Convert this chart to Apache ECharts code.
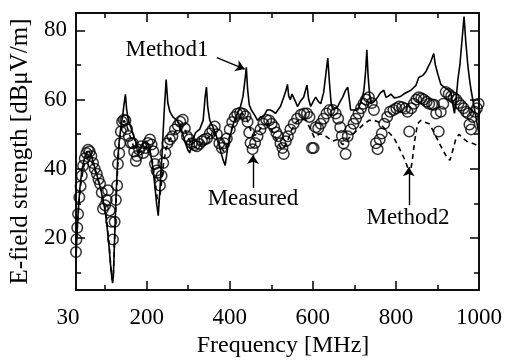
<!DOCTYPE html>
<html><head><meta charset="utf-8">
<script src="https://cdn.jsdelivr.net/npm/echarts@6/dist/echarts.min.js"></script>
<style>html,body{margin:0;padding:0;background:#fff}#c{width:507px;height:363px}</style>
</head><body><div id="c"></div>
<script>
const xTickLabels = [30, 200, 400, 600, 800, 1000];
const xMajorTicks = [200, 400, 600, 800];
const xMinorTicks = [100, 300, 500, 700, 900];
const yTickLabels = [20, 40, 60, 80];
const yMinorTicks = [10, 30, 50, 70];

const method1 = [
[30,14],[32,20],[35,27],[39,34],[44,39.5],[50,43],[56,45],[62,45],[68,43.5],[75,40.5],[82,37.5],[89,34.5],[95,31],[100,28],[105,23],[110,17],[114,11],[118,7],[120,9],[123,20],[126,31],[130,42],[134,48],[138,52],[142,55],[146,59],[149,61.5],[152,57],[156,54],[162,52],[170,49],[178,46.5],[186,46],[193,47.5],[200,48],[207,46],[213,42],[219,36],[224,30],[228,26.5],[232,34],[237,44],[242,56],[247,65.8],[251,59],[256,56.5],[263,55],[273,54],[282,52],[292,48],[299,45.5],[304,44.6],[310,48],[318,50.5],[328,51.5],[336,54],[341,61],[344,63.6],[347,58],[352,54],[360,52],[368,49.5],[376,46],[383,43],[389,41],[395,46],[402,50],[410,53.5],[418,56],[426,58],[432,61],[437,66],[440,69.3],[443,63],[447,58.5],[452,57],[460,55.5],[467,54],[474,55],[481,55],[490,57],[498,57],[505,56.5],[510,56],[516,57],[522,58],[530,60.7],[535,62.5],[539,64.4],[542,61],[546,60],[550,61.6],[554,61.6],[558,59.5],[563,58],[570,59.5],[578,60.7],[582,62.5],[586,64.2],[590,60],[595,58],[601,59.5],[607,60.7],[613,59.5],[619,58.8],[626,62],[631,67],[636,72],[640,65],[644,59],[648,57],[654,57.5],[660,58],[666,59.5],[672,60.7],[678,62.5],[684,63.6],[688,60],[691,57],[700,57],[708,57],[715,59],[720,61],[723,62.7],[727,68],[730,74.4],[733,67],[737,61],[740,58.8],[748,59.5],[756,60.7],[763,62],[771,62.7],[776,60.7],[782,61],[788,61.6],[796,60.5],[805,60.7],[812,61],[819,61.6],[828,62.2],[836,62.7],[843,63.5],[848,64],[855,66.4],[865,67],[872,68],[877,69.3],[884,71],[891,73.3],[895,70],[901,67.3],[908,64.4],[916,63.6],[924,63],[932,62],[938,58],[941,56],[945,60],[949,65.6],[954,70],[959,77],[964,84],[968,77],[973,70],[977,66],[981,62.7],[988,58],[994,54],[1000,50]
];

const method2 = [
[30,17],[33,23],[37,30],[42,36],[48,40.5],[55,43],[62,43.5],[70,41.5],[80,38],[90,34],[98,30],[104,25],[109,19],[113,13],[117,8],[120,10],[123,20],[127,32],[131,42],[135,48.5],[140,52.5],[146,54],[152,52.5],[160,49.5],[170,46],[180,44.5],[190,45.5],[200,46.5],[208,45],[214,42],[220,37],[225,32],[229,30],[234,34],[240,41],[247,46],[256,48.5],[268,50.5],[280,52.5],[290,52],[300,49],[310,46.5],[322,46],[335,47.5],[348,49],[360,50.5],[368,49],[377,46.5],[386,45],[395,47.5],[406,52],[418,55],[430,56],[440,55],[448,52],[456,49.5],[466,50],[478,52.5],[490,53],[502,51],[514,48],[526,45.5],[536,47],[548,51],[560,53.5],[572,54.5],[584,54],[594,51.5],[604,49],[615,50],[625,50],[636,49],[648,48],[660,48.5],[672,47],[684,48.5],[696,50],[710,51.5],[722,52.8],[735,54],[748,54],[758,53.5],[770,52],[783,50.5],[795,49],[808,46],[820,43],[828,40.5],[834,38.5],[839,42],[845,48],[852,53],[860,54],[870,53.5],[880,53],[892,50.5],[904,47.5],[915,45],[924,43],[930,42.5],[936,45],[944,48.5],[952,50],[960,49],[970,48],[982,47.5],[992,47],[1000,46.5]
];

const measured = [
[30,16],[31,19.6],[33,23],[35,27],[38,31.8],[41,35],[44,38],[47,40.9],[51,43],[55,44.6],[59,45.5],[63,45],[67,43.7],[71,41.7],[75,40],[80,38.6],[84,37],[88,35.7],[92,33.2],[95,28.5],[100,29.5],[104,31],[107,33.8],[111,28],[115,24.7],[119,19.6],[123,24.7],[126,31],[129,35.2],[131,41.4],[134,44.5],[136,47.4],[138,50.8],[141,53.6],[145,54.2],[149,54],[153,51.5],[157,49.5],[162,47.5],[167,47.4],[170,45],[174,42.3],[177,43.7],[182,45.5],[187,46.5],[192,44.6],[197,46],[203,47.5],[208,48.5],[212,47],[216,45.1],[220,41.4],[224,39.5],[228,38.9],[232,35.2],[236,38],[240,41.7],[245,44.6],[250,47.4],[256,48.5],[262,49.4],[268,51.4],[275,52.5],[281,53.6],[287,54.2],[292,51.7],[297,49.4],[303,48.5],[309,47.4],[315,46.8],[321,46.5],[327,47.2],[333,48],[339,48.5],[345,48.8],[352,50.2],[358,51.2],[364,52.2],[369,50],[375,47.4],[381,46],[387,47.4],[393,48.8],[400,51.4],[406,53.5],[412,55],[418,55.9],[425,56.2],[432,55.9],[438,55.2],[443,53.6],[447,50.5],[450,47.5],[455,45.7],[461,47.5],[467,49.4],[474,51.4],[481,53],[488,54.2],[495,54],[501,53],[507,52],[512,50.5],[517,49.4],[522,47.4],[527,46],[530,44.3],[535,48],[540,49.4],[546,51.4],[554,53],[562,54.5],[571,55.6],[579,56],[586,56],[592,55],[598,46],[602,46],[607,52],[613,51.7],[619,53],[626,54.5],[633,56],[640,57],[648,57],[655,56],[661,54.5],[666,52],[670,49.5],[674,47.4],[679,44.3],[684,49.4],[691,51.4],[698,53],[704,54.5],[710,56],[716,57.5],[722,58.8],[728,60],[735,60.7],[742,59],[747,57],[752,47.4],[756,45.7],[761,48.5],[766,50.2],[772,53],[779,55],[786,56.5],[794,57],[801,57.5],[808,58],[815,57.8],[822,57.4],[828,56.5],[832,50.8],[837,57.5],[843,58.8],[849,60],[855,60.7],[861,60.4],[867,60],[874,59.4],[880,58.8],[887,58.6],[892,58.5],[897,56],[903,50.8],[908,56.5],[914,58.8],[920,62.2],[927,61.6],[933,61],[939,60.5],[945,60],[951,59],[957,58.3],[963,57.5],[969,56.5],[974,56],[977,52.8],[981,51.4],[985,55],[990,56.5],[995,57.5],[999,58.8]
];

const FONT = 'Liberation Serif';
const BLACK = '#000';
const lineW = 1.5;

function xAxisDef(position, ticks, len, withLabels) {
  const a = {
    type: 'value', min: 30, max: 1000, position: position,
    axisLine: { show: true, lineStyle: { color: BLACK, width: lineW } },
    axisTick: { show: true, inside: true, length: len, customValues: ticks, lineStyle: { color: BLACK, width: lineW } },
    axisLabel: { show: false },
    splitLine: { show: false }
  };
  if (withLabels) {
    a.axisLabel = {
      show: true, customValues: xTickLabels, color: BLACK, fontFamily: FONT, fontSize: 23, margin: 16,
      showMinLabel: true, showMaxLabel: true,
      formatter: function (v) { return v === 30 ? '{p|30}' : String(v); },
      rich: { p: { padding: [0, 16, 0, 0], fontFamily: FONT, fontSize: 23, color: BLACK } }
    };
    a.name = 'Frequency [MHz]';
    a.nameLocation = 'middle';
    a.nameGap = 42;
    a.nameTextStyle = { color: BLACK, fontFamily: FONT, fontSize: 24, padding: [0, 0, 0, 11] };
  }
  return a;
}
function yAxisDef(position, ticks, len, withLabels) {
  const a = {
    type: 'value', min: 5, max: 85, position: position,
    axisLine: { show: true, lineStyle: { color: BLACK, width: lineW } },
    axisTick: { show: true, inside: true, length: len, customValues: ticks, lineStyle: { color: BLACK, width: lineW } },
    axisLabel: { show: false },
    splitLine: { show: false }
  };
  if (withLabels) {
    a.axisLabel = { show: true, customValues: yTickLabels, color: BLACK, fontFamily: FONT, fontSize: 23, margin: 9 };
    a.name = 'E-field strength [dB\u03bcV/m]';
    a.nameLocation = 'middle';
    a.nameGap = 40;
    a.nameTextStyle = { color: BLACK, fontFamily: FONT, fontSize: 25 };
  }
  return a;
}

const chart = echarts.init(document.getElementById('c'));
chart.setOption({
  animation: false,
  backgroundColor: '#fff',
  grid: { left: 76, right: 28, top: 13, bottom: 63 },
  xAxis: [
    xAxisDef('bottom', xMajorTicks, 9, true),
    xAxisDef('bottom', xMinorTicks, 5, false),
    xAxisDef('top', xMajorTicks, 9, false),
    xAxisDef('top', xMinorTicks, 5, false)
  ],
  yAxis: [
    yAxisDef('left', yTickLabels, 9, true),
    yAxisDef('left', yMinorTicks, 5, false),
    yAxisDef('right', yTickLabels, 9, false),
    yAxisDef('right', yMinorTicks, 5, false)
  ],
  series: [
    {
      name: 'Method1', type: 'line', data: method1, showSymbol: false, symbol: 'none',
      lineStyle: { color: BLACK, width: 1.6 }, z: 2,
      markLine: {
        silent: true, symbol: ['none', 'arrow'], symbolSize: 9,
        label: { show: false },
        lineStyle: { color: BLACK, width: 1.4, type: 'solid' },
        data: [
          [{ coord: [369, 72.1] }, { coord: [436, 68.8] }],
          [{ coord: [456, 34.5] }, { coord: [456, 44] }],
          [{ coord: [831, 29.5] }, { coord: [831, 40.5] }]
        ]
      },
      markPoint: {
        silent: true, symbol: 'circle', symbolSize: 1,
        itemStyle: { color: 'rgba(0,0,0,0)' },
        label: { show: true, position: 'inside', color: BLACK, fontFamily: FONT, fontSize: 23, formatter: '{b}' },
        data: [
          { name: 'Method1', coord: [249, 74.3] },
          { name: 'Measured', coord: [456, 31.3] },
          { name: 'Method2', coord: [829, 25.7] }
        ]
      }
    },
    {
      name: 'Method2', type: 'line', data: method2, showSymbol: false, symbol: 'none',
      lineStyle: { color: BLACK, width: 1.6, type: [5, 4] }, z: 2
    },
    {
      name: 'Measured', type: 'scatter', data: measured, symbol: 'circle', symbolSize: 10.5,
      itemStyle: { color: 'rgba(255,255,255,0)', borderColor: BLACK, borderWidth: 1.5 }, z: 3
    }
  ]
});
</script>
</body></html>
